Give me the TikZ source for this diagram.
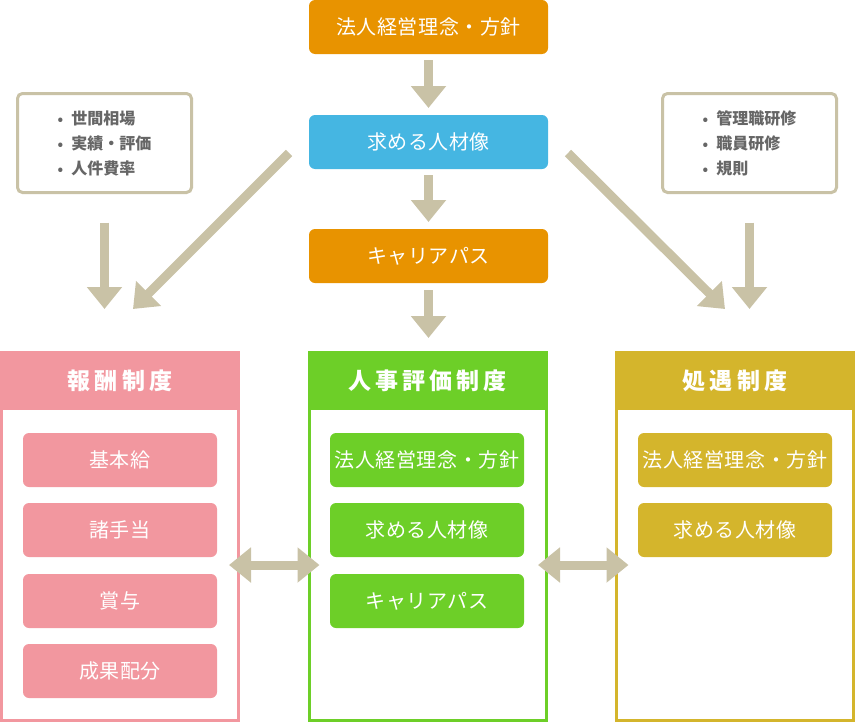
\documentclass[tikz,border=0pt]{standalone}
\usepackage{fontspec}
\setmainfont{Noto Sans CJK JP}
\usepackage{tikz}
\usetikzlibrary{positioning,arrows.meta,calc,shapes}
\definecolor{orangec}{HTML}{E89300}
\definecolor{bluec}{HTML}{45B6E2}
\definecolor{tanc}{HTML}{C9C2A6}
\definecolor{pinkc}{HTML}{F2979F}
\definecolor{greenc}{HTML}{6DCF28}
\definecolor{goldc}{HTML}{D4B52C}
\definecolor{grayc}{HTML}{666666}
\newcommand{\itm}{{\color{grayc}\fontsize{14}{14}\selectfont •}\hspace{8pt}}
\tikzset{
    x=1pt,
    y=-1pt,
    auto,
    policy/.style = {
        shape=rectangle,
        rounded corners=6pt,
        minimum height=54pt,
        minimum width=239pt,
        text=white,
        outer sep=0pt,
        font=\fontsize{20}{23}\selectfont\addfontfeatures{LetterSpace=3}
    },
    item/.style = {
        shape=rectangle,
        rounded corners=6pt,
        minimum height=54pt,
        minimum width=194pt,
        text=white,
        outer sep=0pt,
        font=\fontsize{20}{23}\selectfont\addfontfeatures{LetterSpace=3}
    },
    note/.style = {
        draw=tanc,
        fill=white,
        shape=rectangle,
        rounded corners=5pt,
        line width=3pt,
        minimum height=99pt,
        minimum width=174pt,
        align=left,
        text=grayc,
        outer sep=0pt,
        font=\fontsize{16}{25}\selectfont\bfseries
    },
    column/.style = {
        draw=#1,
        shape=rectangle,
        line width=3pt,
        minimum height=368pt,
        minimum width=237pt,
        outer sep=0pt
    },
    header/.style = {
        fill=#1,
        shape=rectangle,
        minimum height=59pt,
        minimum width=240pt,
        text=white,
        outer sep=0pt,
        font=\fontsize{23}{26}\selectfont\bfseries\addfontfeatures{LetterSpace=18}
    },
    flow/.style = {
        draw=tanc,
        line width=9pt,
        -{Triangle[length=22pt,width=34pt]}
    },
    link/.style = {
        draw=tanc,
        line width=9pt,
        {Triangle[length=22pt,width=34pt]}-{Triangle[length=22pt,width=34pt]}
    },
}

\begin{document}
\begin{tikzpicture}
            \useasboundingbox (0,0) rectangle (855,723);

            \node[policy, fill=orangec] (philo) at (428.5,27) {法人経営理念・方針};
            \node[policy, fill=bluec] (ideal) at (428.5,142) {求める人材像};
            \node[policy, fill=orangec] (career) at (428.5,256) {キャリアパス};

            \node[note] (market) at (104.5,143) {\itm 世間相場\\ \itm 実績・評価\\ \itm 人件費率};
            \node[note] (training) at (749.5,143) {\itm 管理職研修\\ \itm 職員研修\\ \itm 規則};

            \node[column=pinkc] (pay) at (120,536.5) {};
            \node[column=greenc] (eval) at (427.5,536.5) {};
            \node[column=goldc] (treat) at (735,536.5) {};

            \node[header=pinkc] (payhd) at (120,380.5) {報酬制度};
            \node[header=greenc] (evalhd) at (427.5,380.5) {人事評価制度};
            \node[header=goldc] (treathd) at (735,380.5) {処遇制度};

            \node[item, fill=pinkc] (basic) at (120,460) {基本給};
            \node[item, fill=pinkc] (allow) at (120,530) {諸手当};
            \node[item, fill=pinkc] (bonus) at (120,601) {賞与};
            \node[item, fill=pinkc] (result) at (120,671) {成果配分};

            \node[item, fill=greenc] (evalphilo) at (427,460) {法人経営理念・方針};
            \node[item, fill=greenc] (evalideal) at (427,530) {求める人材像};
            \node[item, fill=greenc] (evalcareer) at (427,601) {キャリアパス};

            \node[item, fill=goldc] (treatphilo) at (735,460) {法人経営理念・方針};
            \node[item, fill=goldc] (treatideal) at (735,530) {求める人材像};

            \coordinate (lstart) at (289,153);
            \coordinate (lend) at (133,309);
            \coordinate (rstart) at (568,153);
            \coordinate (rend) at (725,309);
            \coordinate (midrow) at (0,565);

            \path[flow, shorten <=6pt, shorten >=7pt] (philo) -- (ideal);
            \path[flow, shorten <=6pt, shorten >=7pt] (ideal) -- (career);
            \path[flow, shorten <=7pt, shorten >=13pt] (career) -- (career |- evalhd.north);

            \path[flow, shorten <=30pt, shorten >=42pt] (market) -- (market |- payhd.north);
            \path[flow, shorten <=30pt, shorten >=42pt] (training) -- (training |- treathd.north);

            \path[flow] (lstart) -- (lend);
            \path[flow] (rstart) -- (rend);

            \path[link, shorten <=-9.5pt, shorten >=-10.5pt] (pay.east |- midrow) -- (eval.west |- midrow);
            \path[link, shorten <=-8pt, shorten >=-12pt] (eval.east |- midrow) -- (treat.west |- midrow);

        \end{tikzpicture}
\end{document}
